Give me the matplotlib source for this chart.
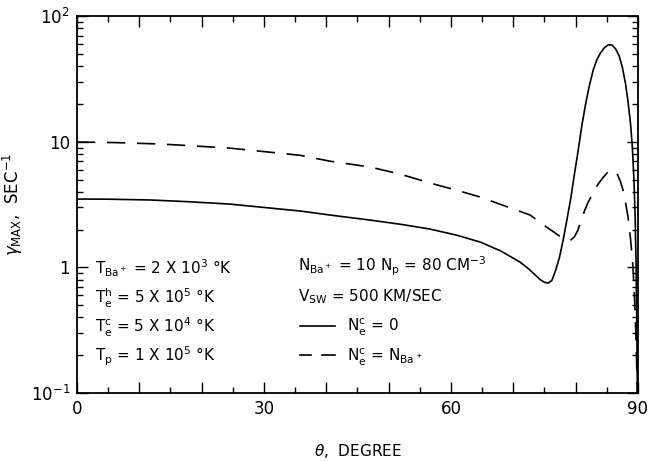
import matplotlib
matplotlib.use("Agg")
import matplotlib.pyplot as plt
from matplotlib.ticker import LogLocator, FixedLocator, NullFormatter, FixedFormatter

plt.rcParams['font.family'] = ['DejaVu Sans']
plt.rcParams['mathtext.fontset'] = 'dejavusans'

# Solid curve: N_e^c = 0
theta_solid = [0, 5, 11.7, 18, 24.5, 30, 35.8, 40.6, 47, 52, 56.6, 61, 64.7, 68, 71.1,
               72.5, 73.5, 74.3, 75.0, 75.6, 76.2, 76.8, 77.4, 78.0, 78.6, 79.2, 79.8,
               80.4, 81.0, 81.6, 82.2, 82.8, 83.4, 84.0, 84.6, 85.2, 85.8, 86.4, 87.0,
               87.5, 88.0, 88.4, 88.8, 89.1, 89.35, 89.55, 89.7, 89.8, 89.9]
gamma_solid = [3.50, 3.49, 3.44, 3.33, 3.19, 3.0, 2.81, 2.61, 2.38, 2.2, 2.02, 1.8, 1.59, 1.35, 1.10,
               0.97, 0.87, 0.80, 0.76, 0.75, 0.79, 0.95, 1.2, 1.65, 2.4, 3.5, 5.5,
               8.5, 13.5, 20, 28, 37, 45, 51, 56, 59, 59, 55, 48,
               39, 29, 21, 14, 9, 5, 2.5, 1.0, 0.4, 0.1]

# Dashed curve: N_e^c = N_Ba+
theta_dash = [0, 6, 13.3, 19, 24.5, 30, 35.8, 40.6, 47, 52, 56.6, 61, 64.7, 68.5, 72.7,
              75, 76.7, 77.8, 78.6, 79.2, 79.8, 80.3, 80.8, 81.4, 82.0, 82.8, 83.6, 84.4,
              85.2, 85.7, 86.2, 86.7, 87.2, 87.6, 88.0, 88.4, 88.8, 89.2, 89.5, 89.7, 89.9]
gamma_dash = [9.95, 9.85, 9.6, 9.25, 8.9, 8.35, 7.8, 7.0, 6.3, 5.5, 4.7, 4.1, 3.63, 3.1, 2.61,
              2.15, 1.88, 1.72, 1.65, 1.65, 1.75, 1.95, 2.3, 2.8, 3.3, 3.9, 4.6, 5.2,
              5.75, 5.95, 5.9, 5.5, 4.8, 4.13, 3.3, 2.52, 1.7, 1.0, 0.5, 0.25, 0.1]

x_ticklabels = {0: '0', 30: '30', 60: '60', 90: '90'}

fig = plt.figure(figsize=(6.67, 4.61), dpi=100)
ax = fig.add_axes([0.1154, 0.1475, 0.8411, 0.8175])

ax.plot(theta_solid, gamma_solid, color='black', lw=1.2)
ax.plot(theta_dash, gamma_dash, color='black', lw=1.2, dashes=(11, 7))

ax.set_yscale('log')
ax.set_xlim(0, 90)
ax.set_ylim(0.1, 100)

major_x = list(range(0, 91, 10))
ax.xaxis.set_major_locator(FixedLocator(major_x))
ax.xaxis.set_major_formatter(FixedFormatter([x_ticklabels.get(v, '') for v in major_x]))
ax.xaxis.set_minor_locator(FixedLocator(list(range(5, 90, 10))))

ax.yaxis.set_major_locator(FixedLocator([0.1, 1, 10, 100]))
ax.yaxis.set_major_formatter(FixedFormatter([r'$10^{-1}$', '1', '10', r'$10^{2}$']))
ax.yaxis.set_minor_locator(LogLocator(base=10, subs=range(2, 10)))
ax.yaxis.set_minor_formatter(NullFormatter())

ax.tick_params(which='both', direction='in', top=True, right=True, labelsize=12, width=1.0)
ax.tick_params(which='major', length=8, pad=5)
ax.tick_params(which='minor', length=4)
for s in ax.spines.values():
    s.set_linewidth(1.3)

ax.set_xlabel(r'$\theta$,  DEGREE', fontsize=11)
ax.xaxis.set_label_coords(0.5, -0.13)
ax.set_ylabel(r'$\gamma_{\mathrm{MAX}}$,  SEC$^{-1}$', fontsize=12)
ax.yaxis.set_label_coords(-0.093, 0.5)

fs = 11
left_texts = [
    r'T$_{\mathrm{Ba}^+}$ = 2 X 10$^3$ °K',
    r'T$_{\mathrm{e}}^{\mathrm{h}}$ = 5 X 10$^5$ °K',
    r'T$_{\mathrm{e}}^{\mathrm{c}}$ = 5 X 10$^4$ °K',
    r'T$_{\mathrm{p}}$ = 1 X 10$^5$ °K',
]
ys_px = [268, 298, 327, 356]
for t, yp in zip(left_texts, ys_px):
    fig.text(95/667, 1 - yp/461, t, fontsize=fs, va='center', ha='left')

fig.text(298/667, 1 - 266/461, r'N$_{\mathrm{Ba}^+}$ = 10 N$_{\mathrm{p}}$ = 80 CM$^{-3}$',
         fontsize=fs, va='center', ha='left')
fig.text(298/667, 1 - 297/461, r'V$_{\mathrm{SW}}$ = 500 KM/SEC',
         fontsize=fs, va='center', ha='left')
fig.text(347/667, 1 - 327/461, r'N$_{\mathrm{e}}^{\mathrm{c}}$ = 0',
         fontsize=fs, va='center', ha='left')
fig.text(347/667, 1 - 357/461, r'N$_{\mathrm{e}}^{\mathrm{c}}$ = N$_{\mathrm{Ba}^+}$',
         fontsize=fs, va='center', ha='left')

fig.add_artist(plt.Line2D([300/667, 335/667], [1 - 326/461, 1 - 326/461],
                          color='black', lw=1.2, transform=fig.transFigure))
fig.add_artist(plt.Line2D([300/667, 311/667], [1 - 355/461, 1 - 355/461],
                          color='black', lw=1.2, transform=fig.transFigure))
fig.add_artist(plt.Line2D([322/667, 335/667], [1 - 355/461, 1 - 355/461],
                          color='black', lw=1.2, transform=fig.transFigure))

fig.savefig('out.png', dpi=100)
